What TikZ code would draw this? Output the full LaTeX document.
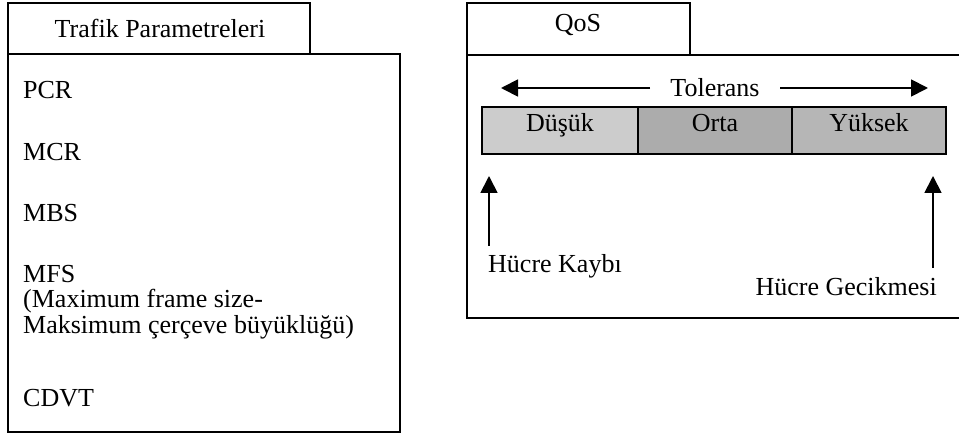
\documentclass[tikz,border=0pt]{standalone}
\usepackage{fontspec}
\setmainfont{Liberation Serif}
\usetikzlibrary{arrows.meta}
\begin{document}
\begin{tikzpicture}[x=1pt,y=-1pt,
  frame/.style={draw=black,line width=1.7pt},
  txt/.style={inner sep=0pt,font=\fontsize{26}{29}\selectfont},
  lbl/.style={txt,anchor=base west},
  arr/.style={line width=1.8pt,-{Triangle[length=17pt,width=17pt]}}]
\useasboundingbox (0,0) rectangle (959,435);

% traffic parameter panel
\draw[frame] (8,3) rectangle (310,54);
\draw[frame] (8,54) rectangle (400,432);
\node[txt,anchor=base] (tp) at (160,38) {Trafik Parametreleri};
\node[lbl] (pcr) at (23,99) {PCR};
\node[lbl] (mcr) at (23,161) {MCR};
\node[lbl] (mbs) at (23,222) {MBS};
\node[lbl] (mfs) at (23,283) {MFS};
\node[lbl] (mfs2) at (23,308) {(Maximum frame size-};
\node[lbl] (mfs3) at (23,334) {Maksimum çerçeve büyüklüğü)};
\node[lbl] (cdvt) at (23,407) {CDVT};

% QoS panel (open on the right)
\draw[frame] (467,3) rectangle (690,55);
\draw[frame] (959,55) -- (467,55) -- (467,318) -- (959,318);
\node[txt,anchor=base] (qos) at (578,32) {QoS};

% tolerance scale
\node[txt,anchor=base] (tol) at (715,97) {Tolerans};
\coordinate (tl) at (650,88);
\coordinate (tlend) at (501,88);
\coordinate (tr) at (780,88);
\coordinate (trend) at (928,88);
\draw[arr] (tl) -- (tlend);
\draw[arr] (tr) -- (trend);

\fill[gray!40] (482,107) rectangle (638,154);
\fill[gray!65] (638,107) rectangle (792,154);
\fill[gray!57] (792,107) rectangle (946,154);
\draw[frame] (482,107) rectangle (946,154);
\draw[frame] (638,107) -- (638,154);
\draw[frame] (792,107) -- (792,154);
\node[txt,anchor=base] (low) at (560,132) {Düşük};
\node[txt,anchor=base] (mid) at (715,132) {Orta};
\node[txt,anchor=base] (high) at (869,132) {Yüksek};

% loss and delay markers
\node[lbl] (loss) at (488,273) {Hücre Kaybı};
\node[txt,anchor=base east] (delay) at (937,296) {Hücre Gecikmesi};
\coordinate (lossup) at (489,246);
\coordinate (losstip) at (489,176);
\coordinate (delayup) at (933,268);
\coordinate (delaytip) at (933,176);
\draw[arr] (lossup) -- (losstip);
\draw[arr] (delayup) -- (delaytip);
\end{tikzpicture}
\end{document}
